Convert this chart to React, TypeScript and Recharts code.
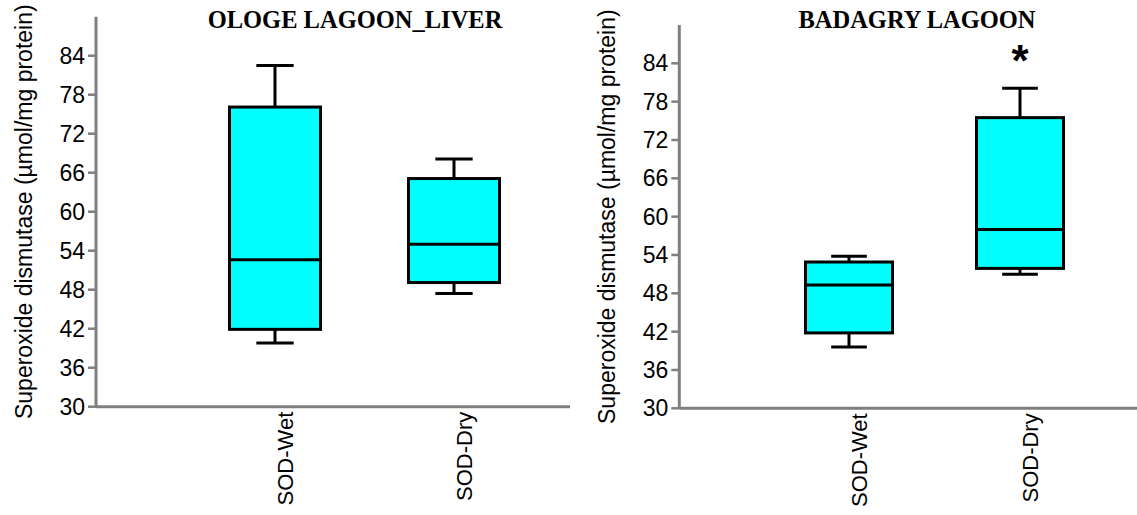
import { Bar, ComposedChart, XAxis, YAxis } from 'recharts';

const categories = ['SOD-Wet', 'SOD-Dry'];
const yTicks = [30, 36, 42, 48, 54, 60, 66, 72, 78, 84];
const yLabel = 'Superoxide dismutase (µmol/mg protein)';

// Ologe lagoon (liver)
const ologeMin = [39.8, 47.4];
const ologeQ1 = [41.9, 49.1];
const ologeMedian = [52.6, 55.0];
const ologeQ3 = [76.1, 65.1];
const ologeMax = [82.5, 68.1];
const ologeSig = ['', ''];

// Badagry lagoon
const badagryMin = [39.6, 51.0];
const badagryQ1 = [41.8, 51.9];
const badagryMedian = [49.3, 58.0];
const badagryQ3 = [52.9, 75.5];
const badagryMax = [53.8, 80.1];
const badagrySig = ['', '*'];

const AXIS = '#7f7f7f';
const FONT = '"Liberation Sans", Arial, sans-serif';
const SERIF = '"Liberation Serif", "Times New Roman", serif';

type Box = { name: string; min: number; q1: number; median: number; q3: number; max: number; sig: string };

function rows(min: number[], q1: number[], med: number[], q3: number[], max: number[], sig: string[]): Box[] {
  return categories.map((name, i) => ({
    name,
    min: min[i],
    q1: q1[i],
    median: med[i],
    q3: q3[i],
    max: max[i],
    sig: sig[i],
  }));
}

/** Draws whiskers, box and median inside the [min, max] range bar. */
function BoxShape(props: any) {
  const { x, y, width, height, payload } = props;
  const top = Math.min(y, y + height);
  const bottom = Math.max(y, y + height);
  const span = payload.max - payload.min;
  const py = (v: number) => bottom - ((v - payload.min) / span) * (bottom - top);
  const cx = x + width / 2;
  const cap = width * 0.41;
  return (
    <g>
      <line x1={cx} x2={cx} y1={py(payload.max)} y2={py(payload.q3)} stroke="#000" strokeWidth={3} />
      <line x1={cx} x2={cx} y1={py(payload.q1)} y2={py(payload.min)} stroke="#000" strokeWidth={3} />
      <line x1={cx - cap / 2} x2={cx + cap / 2} y1={py(payload.max)} y2={py(payload.max)} stroke="#000" strokeWidth={3} />
      <line x1={cx - cap / 2} x2={cx + cap / 2} y1={py(payload.min)} y2={py(payload.min)} stroke="#000" strokeWidth={3} />
      <rect
        x={x}
        y={py(payload.q3)}
        width={width}
        height={py(payload.q1) - py(payload.q3)}
        fill="#00ffff"
        stroke="#000"
        strokeWidth={3}
      />
      <line x1={x} x2={x + width} y1={py(payload.median)} y2={py(payload.median)} stroke="#000" strokeWidth={3} />
      {payload.sig ? (
        <text x={cx} y={py(payload.max) - 12} textAnchor="middle" fontSize={44} fontWeight="bold" fontFamily={FONT} fill="#000">
          {payload.sig}
        </text>
      ) : null}
    </g>
  );
}

function XTick({ x, y, payload }: any) {
  return (
    <g transform={`translate(${x},${y})`}>
      <text transform="rotate(-90)" x={-5} y={10} dy="0.35em" textAnchor="end" fontSize={22} fontFamily={FONT} fill="#000">
        {payload.value}
      </text>
    </g>
  );
}

function Panel(p: {
  data: Box[];
  width: number;
  top: number;
  bottom: number;
  axisWidth: number;
  padLeft: number;
  padRight: number;
  barSize: number;
  labelOffset: number;
}) {
  return (
    <ComposedChart
      width={p.width}
      height={515}
      data={p.data}
      margin={{ top: p.top, right: 0, left: 0, bottom: p.bottom }}
    >
      <XAxis
        dataKey="name"
        height={100}
        padding={{ left: p.padLeft, right: p.padRight }}
        axisLine={{ stroke: AXIS, strokeWidth: 3 }}
        tickLine={false}
        tickSize={0}
        tickMargin={0}
        interval={0}
        tick={<XTick />}
      />
      <YAxis
        width={p.axisWidth}
        domain={[30, 90]}
        ticks={yTicks}
        interval={0}
        allowDataOverflow
        axisLine={{ stroke: AXIS, strokeWidth: 3 }}
        tickLine={{ stroke: AXIS, strokeWidth: 2.5 }}
        tickSize={8}
        tickMargin={3}
        tick={{ fontSize: 23, fontFamily: FONT, fill: '#000' }}
        label={{
          value: yLabel,
          angle: -90,
          position: 'insideLeft',
          offset: p.labelOffset,
          style: { textAnchor: 'middle', fontSize: 23, fontFamily: FONT, fill: '#000' },
        }}
      />
      <Bar
        dataKey={(d: Box) => [d.min, d.max]}
        barSize={p.barSize}
        shape={<BoxShape />}
        isAnimationActive={false}
      />
    </ComposedChart>
  );
}

export default function App() {
  const ologe = rows(ologeMin, ologeQ1, ologeMedian, ologeQ3, ologeMax, ologeSig);
  const badagry = rows(badagryMin, badagryQ1, badagryMedian, badagryQ3, badagryMax, badagrySig);
  return (
    <div style={{ position: 'absolute', left: 0, top: 0, width: 1137, height: 515, background: '#fff' }}>
      <div style={{ position: 'absolute', left: 0, top: 0 }}>
        <Panel
          data={ologe}
          width={570}
          top={16.7}
          bottom={8.3}
          axisWidth={96}
          padLeft={89.5}
          padRight={26.5}
          barSize={91}
          labelOffset={24}
        />
      </div>
      <div style={{ position: 'absolute', left: 570, top: 0 }}>
        <Panel
          data={badagry}
          width={567}
          top={25}
          bottom={6.7}
          axisWidth={109.3}
          padLeft={84.2}
          padRight={31.5}
          barSize={87}
          labelOffset={37}
        />
      </div>
      <svg width={1137} height={40} style={{ position: 'absolute', left: 0, top: 0 }}>
        <text x={355} y={28.3} textAnchor="middle" fontSize={24.5} fontWeight="bold" fontFamily={SERIF} fill="#000">
          OLOGE LAGOON_LIVER
        </text>
        <text x={917} y={28.3} textAnchor="middle" fontSize={24.5} fontWeight="bold" fontFamily={SERIF} fill="#000">
          BADAGRY LAGOON
        </text>
      </svg>
    </div>
  );
}
